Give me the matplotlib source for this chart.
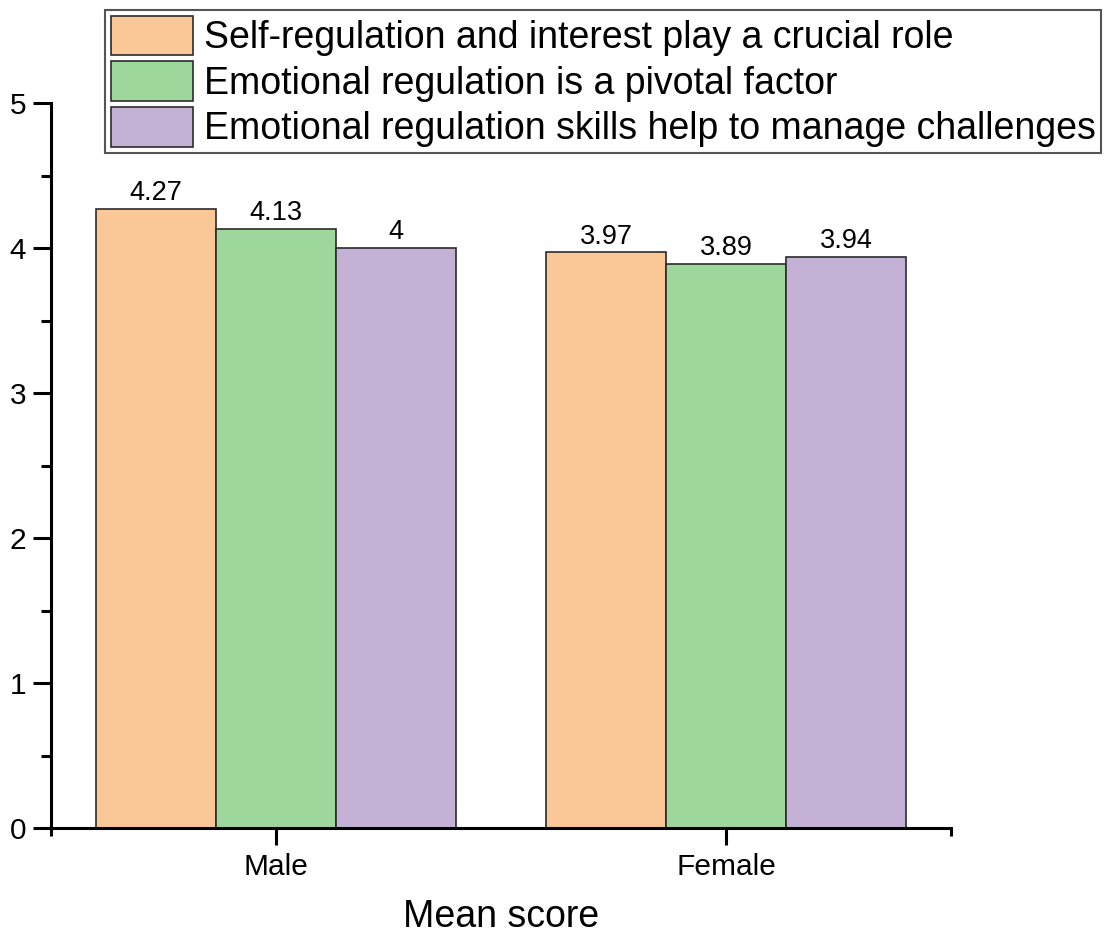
import numpy as np
import matplotlib.pyplot as plt
from matplotlib.ticker import MultipleLocator

plt.rcParams['font.family'] = ['Liberation Sans', 'DejaVu Sans']

groups = ['Male', 'Female']
series = ['Self-regulation and interest play a crucial role',
          'Emotional regulation is a pivotal factor',
          'Emotional regulation skills help to manage challenges']
self_reg = [4.27, 3.97]
emo_pivotal = [4.13, 3.89]
emo_skills = [4.00, 3.94]
value_text = [['4.27', '3.97'], ['4.13', '3.89'], ['4', '3.94']]

colors = ['#FAC897', '#9ED79B', '#C3B2D6']

fig = plt.figure(figsize=(11.06, 9.36), dpi=100)
ax = fig.add_axes([51 / 1106, 1 - 828 / 936, 900 / 1106, 725 / 936])

x = np.arange(1, len(groups) + 1)
w = 0.8 / 3
for i, vals in enumerate([self_reg, emo_pivotal, emo_skills]):
    bars = ax.bar(x + (i - 1) * w, vals, w, color=colors[i], edgecolor='#2b2b2b',
                  linewidth=1.2, label=series[i], zorder=2)
    for b, t in zip(bars, value_text[i]):
        ax.annotate(t, (b.get_x() + b.get_width() / 2, b.get_height()),
                    xytext=(0, 2), textcoords='offset points',
                    ha='center', va='bottom', fontsize=19.5)

ax.set_xlim(0.5, 2.5)
ax.set_ylim(0, 5)
ax.set_xticks(x)
ax.set_xticklabels(groups, fontsize=21.5)
ax.set_xticks([0.5, 2.5], minor=True)
ax.yaxis.set_major_locator(MultipleLocator(1))
ax.yaxis.set_minor_locator(MultipleLocator(0.5))
ax.tick_params(axis='y', which='major', labelsize=21.5, length=13, width=2.2, pad=5)
ax.tick_params(axis='y', which='minor', length=7, width=2.2)
ax.tick_params(axis='x', which='major', length=12, width=2.2, pad=6)
ax.tick_params(axis='x', which='minor', length=6, width=2.2)

for s in ['top', 'right']:
    ax.spines[s].set_visible(False)
for s in ['left', 'bottom']:
    ax.spines[s].set_linewidth(2.2)

ax.set_xlabel('Mean score', fontsize=27, labelpad=13)

leg = ax.legend(loc='upper right', bbox_to_anchor=(1101 / 1106, 1 - 10 / 936),
                bbox_transform=fig.transFigure, borderaxespad=0, fontsize=27,
                handlelength=2.2, handleheight=1.25, handletextpad=0.28,
                labelspacing=0.14, borderpad=0.15, fancybox=False, framealpha=1)
leg.get_frame().set_edgecolor('#555555')
leg.get_frame().set_linewidth(1.5)

fig.savefig('out.png', dpi=100)
